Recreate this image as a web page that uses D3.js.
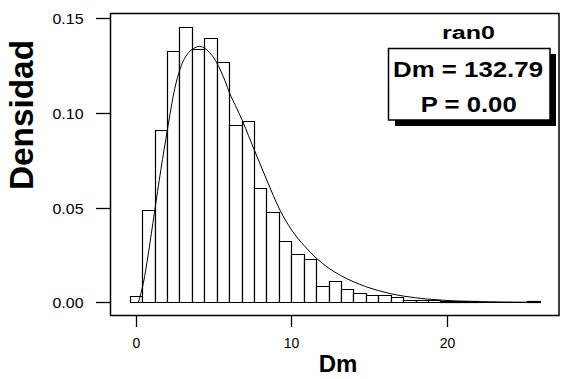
<!DOCTYPE html>
<html>
<head>
<meta charset="utf-8">
<script src="https://cdn.jsdelivr.net/npm/d3@7"></script>
<style>
  html, body { margin: 0; padding: 0; background: #fff; }
  svg { display: block; font-family: "Liberation Sans", Arial, Helvetica, sans-serif; }
</style>
</head>
<body>
<svg id="chart" width="572" height="379"></svg>
<script>
// ---- data ----
const binStarts = [-0.4, 0.4, 1.2, 2.0, 2.8, 3.6, 4.4, 5.2, 6.0, 6.8, 7.6, 8.4, 9.2, 10.0, 10.8, 11.6,
  12.4, 13.2, 14.0, 14.8, 15.6, 16.4, 17.2, 18.0, 18.8, 19.6, 20.4, 21.2, 22.0, 22.8, 23.6, 24.4, 25.2];
const binWidth = 0.8;
const densities = [0.0033, 0.0487, 0.0910, 0.1327, 0.1455, 0.1338, 0.1394, 0.1268, 0.0936, 0.0958,
  0.0602, 0.0475, 0.0323, 0.0254, 0.0228, 0.0085, 0.0111, 0.0069, 0.0048, 0.0037, 0.0037, 0.0030,
  0.0012, 0.0012, 0.0010, 0.0006, 0.0008, 0.0008, 0, 0, 0, 0, 0.0006];
const curveX = [0.15, 0.47, 0.8, 1.18, 1.6, 2.02, 2.5, 2.85, 3.4, 3.7, 4.1, 4.45, 5.2, 5.73, 6.05, 6.4,
  6.87, 7.62, 8.42, 9.27, 10.02, 10.84, 11.63, 12.38, 13.17, 13.99, 14.79, 15.6, 16.37, 17.21, 17.98,
  18.78, 19.57, 20.35, 21.9, 26.0];
const curveY = [0, 0.010, 0.026, 0.047, 0.070, 0.091, 0.113, 0.1235, 0.132, 0.134, 0.1352, 0.134, 0.1265,
  0.117, 0.110, 0.104, 0.0955, 0.0804, 0.0646, 0.0487, 0.0382, 0.0298, 0.0232, 0.0182, 0.0142, 0.0109,
  0.0083, 0.0062, 0.0046, 0.0033, 0.0024, 0.0017, 0.0012, 0.0008, 0.0004, 0.0];
const xTicks = [0, 10, 20];
const yTicks = [0.00, 0.05, 0.10, 0.15];
const seriesName = "ran0";
const statLine1 = "Dm = 132.79";
const statLine2 = "P = 0.00";
const xTitle = "Dm";
const yTitle = "Densidad";

// ---- layout ----
const svg = d3.select("#chart");
const frame = { left: 110.5, top: 13.5, right: 559, bottom: 315.5 };
const x = d3.scaleLinear().domain([0, 20]).range([136, 446.6]);
const y = d3.scaleLinear().domain([0, 0.15]).range([302.3, 18.3]);

// bars
const bars = svg.append("g");
binStarts.forEach((s, i) => {
  const x0 = Math.round(x(s)) + 0.5, x1 = Math.round(x(s + binWidth)) + 0.5;
  const y0 = Math.round(y(0)) + 0.5, y1 = Math.round(y(densities[i])) + 0.5;
  const p = d3.path();
  p.moveTo(x0, y0); p.lineTo(x0, y1); p.lineTo(x1, y1); p.lineTo(x1, y0); p.closePath();
  bars.append("path").attr("d", p.toString())
    .attr("fill", "#fff").attr("stroke", "#000").attr("stroke-width", 1.2);
});

// density curve
const line = d3.line().x((d, i) => x(curveX[i])).y(d => y(d)).curve(d3.curveMonotoneX);
svg.append("path").attr("d", line(curveY)).attr("fill", "none")
  .attr("stroke", "#000").attr("stroke-width", 1);

// frame
svg.append("rect").attr("x", frame.left).attr("y", frame.top)
  .attr("width", frame.right - frame.left).attr("height", frame.bottom - frame.top)
  .attr("fill", "none").attr("stroke", "#000").attr("stroke-width", 1.5);

// y axis
const yAxis = svg.append("g");
yTicks.forEach(t => {
  const yy = Math.round(y(t)) + 0.5;
  yAxis.append("line").attr("x1", 96).attr("x2", frame.left).attr("y1", yy).attr("y2", yy)
    .attr("stroke", "#000").attr("stroke-width", 1.3);
  yAxis.append("text").attr("x", 83.5).attr("y", yy + 5).attr("text-anchor", "end")
    .attr("font-size", 14).attr("textLength", 31).attr("lengthAdjust", "spacingAndGlyphs")
    .text(d3.format(".2f")(t));
});

// x axis
const xAxis = svg.append("g");
xTicks.forEach(t => {
  const xx = Math.round(x(t)) + 0.5;
  xAxis.append("line").attr("x1", xx).attr("x2", xx).attr("y1", frame.bottom).attr("y2", 327)
    .attr("stroke", "#000").attr("stroke-width", 1.3);
  xAxis.append("text").attr("x", xx).attr("y", 347.5).attr("text-anchor", "middle")
    .attr("font-size", 14).text(t);
});

// titles
svg.append("text").attr("x", 338).attr("y", 372).attr("text-anchor", "middle")
  .attr("font-size", 24).attr("font-weight", "bold").text(xTitle);
svg.append("text").attr("transform", "translate(33,115) rotate(-90)").attr("text-anchor", "middle")
  .attr("font-size", 34).attr("font-weight", "bold")
  .attr("textLength", 150).attr("lengthAdjust", "spacingAndGlyphs").text(yTitle);

// legend
svg.append("text").attr("x", 468.5).attr("y", 38.5).attr("text-anchor", "middle")
  .attr("font-size", 18).attr("font-weight", "bold")
  .attr("textLength", 53).attr("lengthAdjust", "spacingAndGlyphs").text(seriesName);
svg.append("rect").attr("x", 395).attr("y", 54).attr("width", 161).attr("height", 72).attr("fill", "#000");
svg.append("rect").attr("x", 388.5).attr("y", 48.5).attr("width", 161.5).attr("height", 71.5)
  .attr("fill", "#fff").attr("stroke", "#000").attr("stroke-width", 1.5);
svg.append("text").attr("x", 468).attr("y", 76.5).attr("text-anchor", "middle")
  .attr("font-size", 21.5).attr("font-weight", "bold")
  .attr("textLength", 150).attr("lengthAdjust", "spacingAndGlyphs").text(statLine1);
svg.append("text").attr("x", 468.7).attr("y", 112).attr("text-anchor", "middle")
  .attr("font-size", 21.5).attr("font-weight", "bold")
  .attr("textLength", 96).attr("lengthAdjust", "spacingAndGlyphs").text(statLine2);
</script>
</body>
</html>
